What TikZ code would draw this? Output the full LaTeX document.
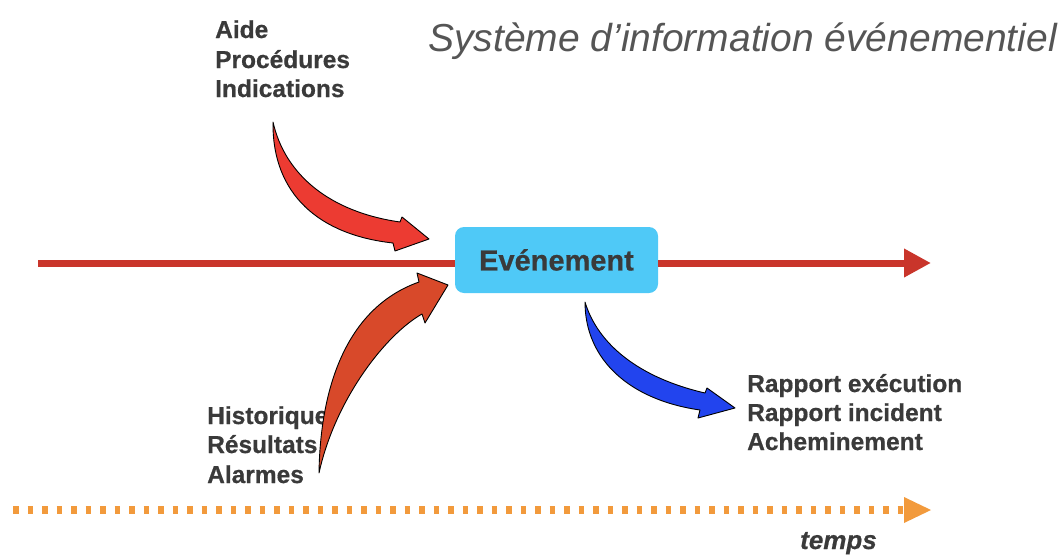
\documentclass[tikz,border=0pt]{standalone}
\usepackage{fontspec}
\setmainfont{Liberation Sans}
\newfontfamily\heavysans[FakeBold=0.6]{Liberation Sans Bold}
\newfontfamily\heavysansit[FakeBold=0.6]{Liberation Sans Bold Italic}
\usetikzlibrary{arrows.meta}
\definecolor{txt}{HTML}{3A3A3A}
\definecolor{ttl}{HTML}{555555}
\definecolor{axisred}{HTML}{C9352B}
\definecolor{boxblue}{HTML}{4FC9F7}
\definecolor{arrred}{HTML}{EC3B32}
\definecolor{arrorange}{HTML}{D8492A}
\definecolor{arrblue}{HTML}{2244EE}
\definecolor{timeor}{HTML}{F29A3C}
\begin{document}
\begin{tikzpicture}[x=1pt,y=-1pt,
  lbl/.style={inner sep=0pt, anchor=base west, text=txt, font=\heavysans\fontsize{24.5}{29.5}\selectfont},
  evbox/.style={fill=boxblue, rounded corners=9pt, minimum width=203pt, minimum height=66pt, inner sep=0pt, text=txt, font=\heavysans\fontsize{29}{34}\selectfont},
  axis/.style={draw=axisred, line width=7pt},
  bent/.style={draw=black, line width=0.9pt, line join=round}]
\useasboundingbox (0,0) rectangle (1059,554);

% title
\node[inner sep=0pt, anchor=base west, text=ttl, font=\itshape\fontsize{39}{44}\selectfont] (title) at (428,51) {Système d’information événementiel};

% labels
\node[lbl] (aide) at (215,38) {Aide};
\node[lbl] (proc) at (215,68) {Procédures};
\node[lbl] (indic) at (215,97) {Indications};
\node[lbl] (hist) at (207,424) {Historique};
\node[lbl] (res) at (207,453) {Résultats};
\node[lbl] (alarm) at (207,483) {Alarmes};
\node[lbl] (rexec) at (747,392) {Rapport exécution};
\node[lbl] (rinc) at (747,421) {Rapport incident};
\node[lbl] (ach) at (747,450) {Acheminement};

% event box and axis
\node[evbox] (ev) at (556.5,260) {\raisebox{-1pt}{Evénement}};
\coordinate (lstart) at (38,263);
\coordinate (lend) at (931,263);
\draw[axis] (lstart) -- (lstart -| ev.west);
\draw[axis,-{Triangle[length=27pt,width=27pt]}] (lstart -| ev.east) -- (lend);

% curved arrows
\filldraw[bent, fill=arrred]
  (273,122) .. controls (285,175) and (330,212) .. (400,222)
  -- (402,217) -- (429,239) -- (395,251) -- (393,243)
  .. controls (320,235) and (272,195) .. cycle;
\filldraw[bent, fill=arrorange]
  (319,473) .. controls (320,400) and (340,310) .. (419,282)
  -- (417,273) -- (448,285) -- (425,323) -- (422,314)
  .. controls (385,335) and (335,400) .. cycle;
\filldraw[bent, fill=arrblue]
  (585,302) .. controls (598,345) and (640,378) .. (705,393)
  -- (707,388) -- (735,408) -- (698,418) -- (700,410)
  .. controls (630,400) and (585,360) .. cycle;

% time axis
\draw[timeor, line width=8pt, dash pattern=on 5.5pt off 9pt] (13,510) -- (904,510);
\fill[timeor] (904,497) -- (931,510) -- (904,523) -- cycle;
\node[inner sep=0pt, anchor=base west, text=txt, font=\heavysansit\fontsize{26}{30}\selectfont] (temps) at (800,549) {temps};
\end{tikzpicture}
\end{document}
